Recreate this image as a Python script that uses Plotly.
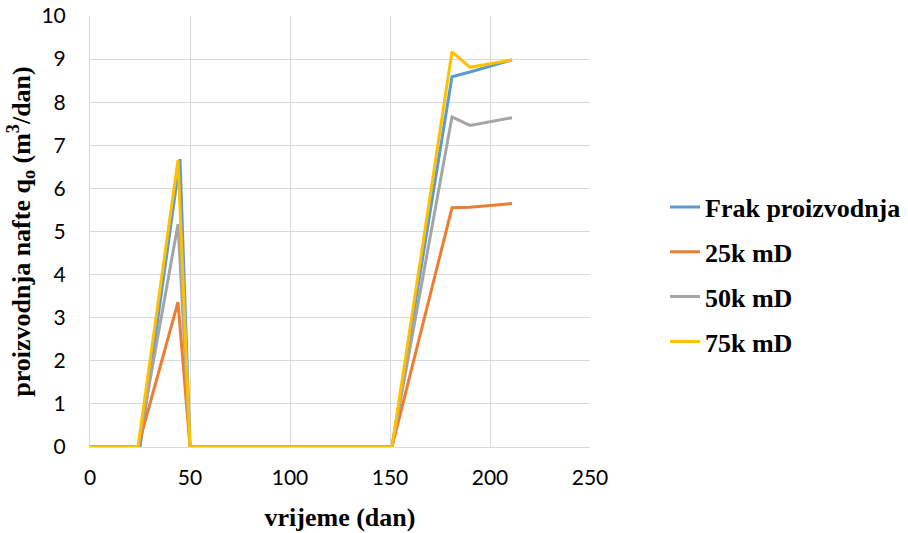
import plotly.graph_objects as go

days_frak = [0, 25, 45, 50, 151, 181, 190, 211]
days_sim = [0, 24, 44, 50, 151, 181, 190, 211]

frak = [0, 0, 6.68, 0, 0, 8.59, 8.70, 8.98]
k25 = [0, 0, 3.36, 0, 0, 5.55, 5.56, 5.65]
k50 = [0, 0, 5.17, 0, 0, 7.66, 7.46, 7.64]
k75 = [0, 0, 6.66, 0, 0, 9.17, 8.81, 8.98]

names = ["Frak proizvodnja", "25k mD", "50k mD", "75k mD"]
colors = ["#5B9BD5", "#ED7D31", "#A5A5A5", "#FFC000"]
series = [(days_frak, frak), (days_sim, k25), (days_sim, k50), (days_sim, k75)]

fig = go.Figure()
for (xs, ys), n, c in zip(series, names, colors):
    fig.add_trace(go.Scatter(x=xs, y=ys, mode="lines", name="<b>" + n + "</b>",
                             legendgroup=n,
                             line=dict(color=c, width=3)))

serif = "Liberation Serif, Times New Roman, serif"
fig.update_layout(
    width=908, height=533,
    margin=dict(l=90, r=318, t=16, b=86, autoexpand=False),
    paper_bgcolor="white", plot_bgcolor="white",
    font=dict(family="Lato", size=21, color="#000000"),
    legend=dict(x=1.15, y=0.4, xanchor="left", yanchor="middle",
                font=dict(family=serif, size=26, color="#000000"),
                tracegroupgap=8, itemwidth=30),
    xaxis=dict(range=[0, 250], dtick=50, showgrid=True, gridcolor="#d9d9d9",
               gridwidth=1, zeroline=False, showline=True, linecolor="#d9d9d9",
               ticks="", ticklabelstandoff=12, automargin=False,
               ticklabeloverflow="allow",
               tickfont=dict(family="Lato", size=21, color="#000000"),
               title=dict(text="<b>vrijeme (dan)</b>", standoff=19,
                          font=dict(family=serif, size=26, color="#000000"))),
    yaxis=dict(range=[0, 10], dtick=1, showgrid=True, gridcolor="#d9d9d9",
               gridwidth=1, zeroline=False, showline=True, linecolor="#d9d9d9",
               ticks="", ticklabelstandoff=19, automargin=False,
               ticklabeloverflow="allow",
               tickfont=dict(family="Lato", size=21, color="#000000"),
               title=dict(text="<b>proizvodnja nafte q<sub>o</sub> (m<sup>3</sup>/dan)</b>",
                          standoff=3,
                          font=dict(family=serif, size=26, color="#000000"))),
)

fig.write_html("out.html",
               config={"displayModeBar": False},
               post_script="document.body.style.margin='0';document.body.style.overflow='hidden';")
